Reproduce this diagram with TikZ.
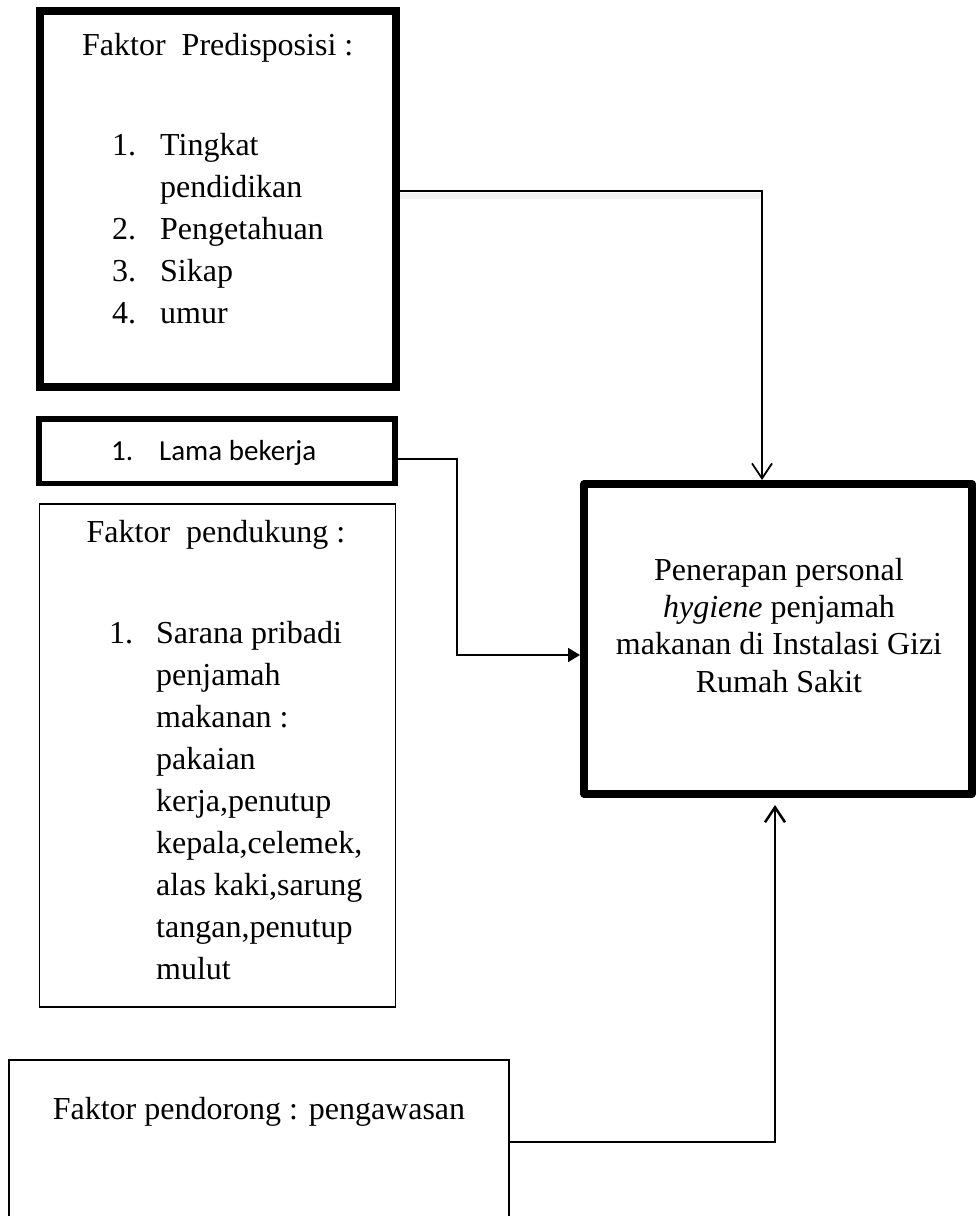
\documentclass[tikz,border=0pt]{standalone}
\usepackage{fontspec}
\setmainfont{Liberation Serif}
\newfontfamily\calibri{Carlito}
\usetikzlibrary{arrows.meta}
\tikzset{
	boxframe/.style={draw, rectangle, inner sep=0pt},
	heavybox/.style={boxframe, line width=8pt},
	lamabox/.style={boxframe, line width=5.5pt},
	thinbox/.style={boxframe, line width=1.5pt},
	txt/.style={inner sep=0pt, font=\fontsize{32}{42}\selectfont},
	link/.style={line width=1.8pt},
	barb/.style={-{Straight Barb[length=15pt,width=20pt]}},
	solidtip/.style={-{Triangle[length=12pt,width=14pt]}}
}
\begin{document}
\begin{tikzpicture}[x=1pt,y=-1pt]
	\useasboundingbox (0,0) rectangle (976,1216);
	\clip (0,0) rectangle (976,1216);
	% boxes
	\node[heavybox, minimum width=356.5pt, minimum height=376pt] (predis) at (217.75,199) {};
	\node[lamabox, minimum width=356pt, minimum height=64.5pt] (lama) at (217,451) {};
	\node[thinbox, minimum width=356pt, minimum height=503pt] (dukung) at (217.5,755.5) {};
	\node[heavybox, line join=round, minimum width=388pt, minimum height=309.5pt] (terap) at (778,638.75) {};
	\node[thinbox, minimum width=500pt, minimum height=164pt] (dorong) at (259,1142) {};
	% texts
	\node[txt, anchor=base] (predis-t) at (217.75,55) {Faktor\ \ Predisposisi :};
	\node[txt, anchor=north west] (predis-l) at (112,125.6) {\begin{tabular}{@{}p{48pt}@{}l@{}}
		1. & Tingkat\\ & pendidikan\\ 2. & Pengetahuan\\ 3. & Sikap\\ 4. & umur
	\end{tabular}};
	\node[inner sep=0pt, anchor=base west, font=\calibri\fontsize{29}{35}\selectfont] (lama-t) at (111,460) {\makebox[48pt][l]{1.}Lama bekerja};
	\node[txt, anchor=base] (dukung-t) at (216,542) {Faktor\ \ pendukung :};
	\node[txt, anchor=north west] (dukung-l) at (109,613.6) {\begin{tabular}{@{}p{47pt}@{}l@{}}
		1. & Sarana pribadi\\ & penjamah\\ & makanan :\\ & pakaian\\ & kerja,penutup\\
		& kepala,celemek,\\ & alas kaki,sarung\\ & tangan,penutup\\ & mulut
	\end{tabular}};
	\node[txt, anchor=north, font=\fontsize{32}{37.3}\selectfont] (terap-t) at (779,553.9) {\begin{tabular}{@{}c@{}}
		Penerapan personal\\ \textit{hygiene} penjamah\\ makanan di Instalasi Gizi\\ Rumah Sakit
	\end{tabular}};
	\node[txt, anchor=base] (dorong-t) at (259,1119) {Faktor pendorong : pengawasan};
	% connectors
	\draw[black!5, line width=6pt] ([yshift=3pt]predis.east) -- ++(362,0);
	\draw[link, barb] ([yshift=8pt]predis.east) -| ([xshift=-16pt]terap.north);
	\draw[link, solidtip] ([yshift=-8pt]lama.east) -- ++(59,0) |- ([yshift=-16.25pt]terap.west);
	\draw[link, line width=2.5pt, barb] (dorong.east) -| ([xshift=-3pt,yshift=-7.5pt]terap.south);
\end{tikzpicture}
\end{document}
